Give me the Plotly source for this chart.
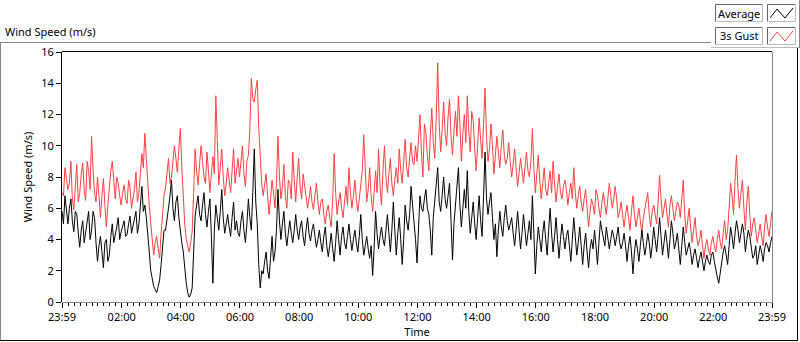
import plotly.graph_objects as go

# ---- data ----
# samples on the hour grid every 6 minutes from 23:59 ...
gust = [
    7.0, 8.6, 7.2, 9.0, 5.9, 8.8, 7.0, 8.9, 6.5, 8.4,
    10.6, 7.0, 8.0, 5.4, 7.9, 4.8, 7.4, 9.0, 6.6, 7.6,
    6.2, 7.5, 6.3, 7.3, 6.5, 8.3, 7.0, 9.5, 10.8, 7.5,
    5.0, 3.0, 4.2, 2.8, 5.8, 7.3, 9.2, 8.0, 10.0, 8.3,
    11.1, 6.5, 4.0, 3.2, 4.5, 9.8, 7.5, 10.0, 8.0, 9.6,
    7.0, 9.3, 13.2, 7.5, 9.8, 6.8, 8.6, 7.0, 9.8, 8.5,
    8.0, 10.0, 7.4, 9.4, 14.3, 12.8, 14.2, 9.0, 6.8, 8.2,
    5.6, 7.8, 6.0, 10.6, 6.6, 8.8, 6.0, 7.6, 9.6, 6.4,
    9.2, 6.6, 7.5, 6.0, 7.4, 5.9, 7.6, 5.6, 6.6, 5.0,
    6.2, 4.8, 9.5, 5.6, 7.0, 5.4, 7.4, 8.6, 6.0, 7.8,
    5.8, 7.6, 10.7, 6.4, 8.6, 5.8, 8.4, 9.8, 6.2, 10.0,
    7.0, 9.2, 6.8, 8.6, 9.8, 7.6, 10.4, 8.0, 10.2, 8.8,
    9.0, 12.0, 8.0, 10.8, 8.4, 12.4, 9.2, 15.3, 9.6, 12.8,
    10.0, 13.0, 9.4, 12.2, 13.2, 9.0, 12.0, 13.2, 9.6, 11.6,
    8.4, 11.8, 9.2, 13.7, 9.0, 11.4, 8.2, 10.6, 8.6, 11.0,
    8.8, 10.2, 8.0, 9.8, 7.4, 9.2, 7.6, 9.6, 8.0, 11.1,
    7.0, 9.4, 6.6, 8.6, 6.8, 8.4, 9.0, 6.4, 8.2, 6.6,
    7.8, 6.2, 7.6, 8.6, 6.0, 7.4, 5.8, 7.2, 4.8, 6.6,
    5.6, 6.8, 5.4, 7.0, 5.6, 7.6, 6.0, 7.4, 5.4, 6.4,
    4.8, 6.2, 4.6, 6.8, 4.8, 6.0, 4.4, 5.9, 7.0, 4.8,
    6.2, 5.0, 8.1, 5.4, 6.6, 4.8, 6.8, 5.2, 6.4, 5.4,
    7.8, 4.4, 6.0, 3.8, 5.4, 3.6, 4.6, 2.8, 4.0, 3.0,
    4.2, 3.2, 4.6, 3.4, 5.2, 4.6, 7.6, 5.6, 9.4, 6.0,
    7.8, 4.6, 7.4, 4.2, 5.4, 3.8, 5.0, 3.6, 5.6, 4.2,
    5.8,
]
# ... and the readings 3 minutes after each of them
gust_mid = [
    6.8, 8.0, 7.6, 6.6, 7.4, 6.4, 8.2, 7.2, 9.0, 7.2,
    8.4, 6.4, 6.8, 6.8, 6.2, 6.2, 8.4, 7.4, 8.0, 6.8,
    7.0, 6.6, 7.8, 6.0, 7.2, 6.4, 8.0, 8.6, 9.2, 6.2,
    3.8, 3.8, 3.4, 4.4, 6.8, 8.4, 7.6, 9.0, 9.2, 9.8,
    8.6, 5.0, 3.6, 3.8, 7.0, 8.4, 8.8, 9.0, 7.6, 8.4,
    8.2, 8.2, 10.4, 8.6, 8.0, 7.6, 7.8, 8.4, 7.6, 9.2,
    8.8, 8.2, 9.0, 11.0, 13.0, 13.6, 11.2, 7.6, 7.4, 6.8,
    6.6, 7.0, 7.6, 8.0, 7.4, 6.8, 7.8, 6.6, 7.8, 8.0,
    7.4, 8.2, 6.6, 6.6, 6.4, 6.8, 6.4, 6.4, 5.6, 5.8,
    5.4, 6.6, 7.0, 6.4, 6.0, 6.4, 6.2, 7.0, 6.8, 6.6,
    6.6, 8.4, 8.0, 7.2, 6.8, 7.0, 7.0, 7.4, 8.4, 8.0,
    8.2, 7.6, 7.8, 7.6, 8.4, 9.0, 8.6, 9.2, 9.0, 10.0,
    10.4, 9.6, 11.4, 9.4, 10.6, 10.2, 11.8, 11.4, 11.0, 10.8,
    11.8, 10.6, 11.0, 10.6, 11.4, 10.8, 10.2, 11.0, 12.2, 9.8,
    10.0, 10.4, 11.4, 10.6, 9.8, 10.0, 9.4, 9.6, 10.0, 9.4,
    9.2, 9.0, 8.8, 8.6, 8.2, 8.4, 8.6, 8.4, 9.0, 8.6,
    8.2, 7.8, 7.6, 7.2, 7.6, 7.0, 7.6, 7.4, 7.0, 7.4,
    7.2, 7.0, 6.6, 7.0, 6.8, 6.4, 6.6, 6.0, 5.8, 6.2,
    7.2, 6.0, 6.4, 6.2, 6.6, 6.8, 6.6, 6.6, 5.8, 5.6,
    5.6, 5.4, 5.8, 5.6, 5.4, 5.2, 5.4, 6.4, 5.6, 5.8,
    5.6, 6.4, 6.6, 6.0, 5.6, 6.2, 6.0, 5.8, 6.2, 6.6,
    5.6, 5.2, 4.8, 4.6, 4.2, 4.0, 3.6, 3.6, 3.4, 3.8,
    3.6, 4.0, 3.8, 4.4, 4.0, 6.0, 6.8, 7.8, 7.2, 7.0,
    6.0, 6.4, 5.6, 5.0, 4.6, 4.4, 4.2, 4.8, 4.8, 5.0,
]
average = [
    5.8, 6.8, 5.0, 6.6, 4.5, 5.6, 3.5, 5.2, 4.4, 5.8,
    4.6, 5.4, 2.6, 4.2, 2.2, 4.0, 3.0, 5.0, 4.2, 5.4,
    4.5, 5.2, 4.3, 5.5, 4.8, 5.8, 5.0, 7.4, 6.2, 4.5,
    2.0, 1.0, 0.6, 1.4, 3.5, 4.6, 6.0, 7.8, 5.2, 6.8,
    4.4, 3.2, 1.2, 0.3, 0.9, 5.5, 6.8, 5.2, 7.0, 4.8,
    6.6, 1.2, 6.2, 4.6, 7.2, 4.4, 5.6, 4.2, 6.4, 5.2,
    4.2, 5.8, 3.8, 6.6, 4.6, 9.8, 5.0, 0.9, 1.8, 3.2,
    1.5, 4.2, 3.2, 7.2, 4.0, 5.8, 3.6, 5.2, 3.8, 5.6,
    4.0, 5.2, 3.6, 5.4, 3.9, 5.0, 3.5, 4.6, 3.2, 4.8,
    2.9, 4.4, 2.6, 5.2, 3.0, 4.8, 3.4, 5.0, 3.3, 4.6,
    3.2, 5.6, 3.0, 4.2, 2.8, 1.7, 5.8, 3.4, 4.8, 3.6,
    5.6, 3.2, 6.4, 3.0, 5.4, 2.4, 6.2, 4.6, 7.4, 5.2,
    2.5, 6.8, 5.8, 7.2, 5.6, 3.0, 6.6, 8.6, 5.8, 8.0,
    6.0, 7.6, 2.7, 6.4, 8.6, 4.8, 7.2, 8.4, 4.4, 6.4,
    4.0, 6.8, 4.2, 9.6, 5.6, 7.0, 4.0, 2.9, 5.8, 4.2,
    6.2, 4.6, 5.4, 3.6, 5.8, 3.4, 5.6, 3.6, 5.2, 6.8,
    1.8, 4.8, 3.2, 5.2, 3.0, 6.0, 3.2, 5.4, 2.8, 5.0,
    3.4, 4.6, 2.6, 5.4, 3.0, 4.8, 2.4, 4.4, 2.2, 4.0,
    4.6, 2.4, 5.2, 4.0, 4.8, 3.4, 4.6, 3.6, 4.8, 3.4,
    4.4, 2.6, 4.2, 1.8, 4.0, 2.6, 4.6, 3.0, 4.4, 2.8,
    4.8, 3.2, 5.4, 3.0, 4.6, 2.8, 5.2, 3.4, 4.4, 2.4,
    4.8, 3.0, 3.8, 2.4, 3.4, 2.2, 3.2, 2.0, 3.0, 2.4,
    3.2, 2.0, 1.2, 2.6, 3.6, 2.4, 4.8, 3.4, 5.2, 3.8,
    5.0, 3.2, 4.6, 3.6, 3.0, 2.4, 3.6, 2.6, 3.8, 3.2,
    4.2,
]
average_mid = [
    5.0, 5.6, 6.0, 5.2, 5.8, 4.4, 4.6, 3.8, 5.2, 4.0,
    5.8, 3.8, 3.6, 3.2, 3.8, 2.6, 4.2, 3.8, 4.8, 4.0,
    4.8, 4.2, 5.0, 4.4, 5.4, 4.4, 6.2, 5.8, 5.4, 3.2,
    1.4, 0.8, 1.0, 2.4, 4.6, 5.2, 6.8, 6.0, 6.4, 5.4,
    3.8, 2.0, 0.6, 0.5, 3.2, 6.2, 5.6, 6.2, 5.6, 5.8,
    4.2, 4.6, 5.4, 5.8, 5.4, 5.0, 4.8, 5.4, 4.6, 4.4,
    5.2, 4.6, 5.0, 5.4, 7.0, 6.4, 2.4, 2.0, 2.6, 2.0,
    2.8, 2.6, 4.6, 5.2, 5.0, 4.4, 4.4, 4.4, 4.6, 4.6,
    4.8, 4.2, 4.6, 4.4, 4.6, 4.2, 4.0, 3.8, 4.2, 3.6,
    3.6, 3.4, 3.8, 4.0, 4.2, 3.8, 4.2, 4.0, 4.0, 3.8,
    4.2, 4.0, 3.6, 3.4, 3.6, 3.4, 4.4, 4.2, 4.0, 4.6,
    4.4, 4.6, 4.6, 4.4, 4.0, 4.0, 5.2, 5.6, 6.2, 4.0,
    4.6, 6.0, 6.6, 6.0, 4.6, 5.4, 7.4, 6.4, 6.8, 6.6,
    6.8, 5.2, 5.0, 7.2, 6.2, 6.0, 6.0, 5.8, 5.4, 5.0,
    5.4, 5.2, 6.8, 6.6, 6.4, 5.4, 5.0, 4.6, 4.8, 5.4,
    5.2, 5.0, 4.4, 4.6, 4.6, 4.4, 4.6, 4.4, 4.0, 4.4,
    3.6, 4.0, 4.4, 4.0, 4.6, 4.4, 4.2, 4.0, 4.0, 4.2,
    4.2, 3.6, 4.0, 4.2, 3.8, 3.6, 3.6, 3.2, 3.4, 3.4,
    3.6, 3.8, 4.6, 3.6, 4.2, 4.0, 4.2, 4.2, 3.8, 3.8,
    3.6, 3.6, 3.2, 3.2, 3.4, 3.6, 3.8, 3.6, 3.8, 3.6,
    4.0, 4.2, 4.2, 3.8, 3.8, 4.0, 4.4, 3.8, 3.4, 3.6,
    3.8, 3.4, 3.2, 3.0, 2.8, 2.8, 2.6, 2.6, 2.6, 3.0,
    2.6, 1.6, 2.0, 3.2, 3.0, 3.6, 4.2, 4.4, 4.6, 4.4,
    4.4, 4.0, 4.2, 2.8, 3.6, 3.0, 3.2, 3.4, 3.6, 3.8,
]
sample_minutes = 3
tick_minutes = [0, 121, 241, 361, 481, 601, 721, 841, 961, 1081, 1201, 1321, 1440]
tick_labels = ["23:59", "02:00", "04:00", "06:00", "08:00", "10:00", "12:00",
               "14:00", "16:00", "18:00", "20:00", "22:00", "23:59"]
y_ticks = [0, 2, 4, 6, 8, 10, 12, 14, 16]


def merge(main, mid):
    out = []
    for a, b in zip(main, mid):
        out += [a, b]
    out.append(main[-1])
    return out


gust_all = merge(gust, gust_mid)
average_all = merge(average, average_mid)
minutes = [i * sample_minutes for i in range(len(gust_all))]

# ---- geometry ----
W, H = 800, 342
L, R, T, B = 62, 28, 52, 40
PW, PH = W - L - R, H - T - B
FONT = "Noto Sans"
FS = 11


def px(x):
    return (x - L) / PW


def py(y):
    return (H - B - y) / PH


fig = go.Figure()
fig.add_trace(go.Scatter(x=minutes, y=gust_all, mode="lines", name="3s Gust",
                         line=dict(color="#ff4040", width=1), hoverinfo="skip"))
fig.add_trace(go.Scatter(x=minutes, y=average_all, mode="lines", name="Average",
                         line=dict(color="#000000", width=1), hoverinfo="skip"))

minor_vals = [1 + 12 * k for k in range(1, 120) if k % 10 != 0]

fig.update_layout(
    width=W, height=H,
    margin=dict(l=L, r=R, t=T, b=B, pad=0, autoexpand=False),
    paper_bgcolor="white", plot_bgcolor="white",
    showlegend=False,
    font=dict(family=FONT, size=FS, color="black"),
    xaxis=dict(
        range=[0, 1440], tickmode="array", tickvals=tick_minutes, ticktext=tick_labels,
        ticks="outside", ticklen=5, tickcolor="black", tickwidth=1,
        showgrid=False, zeroline=False, showline=False, automargin=False,
        tickfont=dict(size=FS, family=FONT),
        title=dict(text="Time", font=dict(size=FS, family=FONT), standoff=2),
        minor=dict(tickmode="array", tickvals=minor_vals, ticks="outside", ticklen=3,
                   tickcolor="black", showgrid=False),
    ),
    yaxis=dict(
        range=[0, 16], tickmode="array", tickvals=y_ticks,
        ticks="outside", ticklen=5, tickcolor="black", tickwidth=1,
        showgrid=False, zeroline=False, showline=False, automargin=False,
        tickfont=dict(size=FS, family=FONT),
        title=dict(text="Wind Speed (m/s)", font=dict(size=FS, family=FONT), standoff=6),
    ),
)

shapes = []


def seg(x0, y0, x1, y1, color, width=1):
    shapes.append(dict(type="line", xref="paper", yref="paper",
                       x0=px(x0), y0=py(y0), x1=px(x1), y1=py(y1),
                       line=dict(color=color, width=width), layer="above"))


# plot-area frame (dark top/left, grey right/bottom)
seg(L, T - 0.5, W - R, T - 0.5, "black")
seg(L - 0.5, T, L - 0.5, H - B, "black")
seg(W - R + 0.5, T, W - R + 0.5, H - B + 0.5, "#888888")
seg(L, H - B + 0.5, W - R + 0.5, H - B + 0.5, "#888888")
# outer panel frame
seg(0, 42.5, 711, 42.5, "#888888")
seg(0.5, 42.5, 0.5, 341, "#888888")
seg(0, 340.5, 798, 340.5, "black")
seg(797.5, 48, 797.5, 341, "black")
# legend panel
seg(711, 47.5, 800, 47.5, "#bbbbbb")
seg(799.5, 0, 799.5, 48, "#888888")


def box(x0, y0, x1, y1):
    seg(x0, y0, x1, y0, "#666666")
    seg(x0, y0, x0, y1, "#666666")
    seg(x1, y0, x1, y1, "#bbbbbb")
    seg(x0, y1, x1, y1, "#bbbbbb")


box(715.5, 4.5, 762.5, 21.5)
box(767.5, 4.5, 795.5, 21.5)
box(715.5, 27.5, 762.5, 44.5)
box(767.5, 27.5, 795.5, 44.5)


def zig(yoff, color):
    pts = [(770, 18 + yoff), (777, 9 + yoff), (785, 18 + yoff), (793, 8 + yoff)]
    path = "M " + " L ".join(f"{px(a)},{py(b)}" for a, b in pts)
    shapes.append(dict(type="path", xref="paper", yref="paper", path=path,
                       line=dict(color=color, width=1), layer="above"))


zig(0, "black")
zig(23, "#ff4040")

fig.update_layout(shapes=shapes)

fig.add_annotation(text="Wind Speed (m/s)", xref="paper", yref="paper",
                   x=px(3), y=py(32), xanchor="left", yanchor="middle",
                   showarrow=False, font=dict(size=FS, family=FONT))
fig.add_annotation(text="Average", xref="paper", yref="paper",
                   x=px(739), y=py(13), xanchor="center", yanchor="middle",
                   showarrow=False, font=dict(size=FS, family=FONT))
fig.add_annotation(text="3s Gust", xref="paper", yref="paper",
                   x=px(739), y=py(36), xanchor="center", yanchor="middle",
                   showarrow=False, font=dict(size=FS, family=FONT))

fig.write_html(
    "out.html",
    config={"displayModeBar": False},
    post_script="document.body.style.margin='0';document.body.style.overflow='hidden';",
)
